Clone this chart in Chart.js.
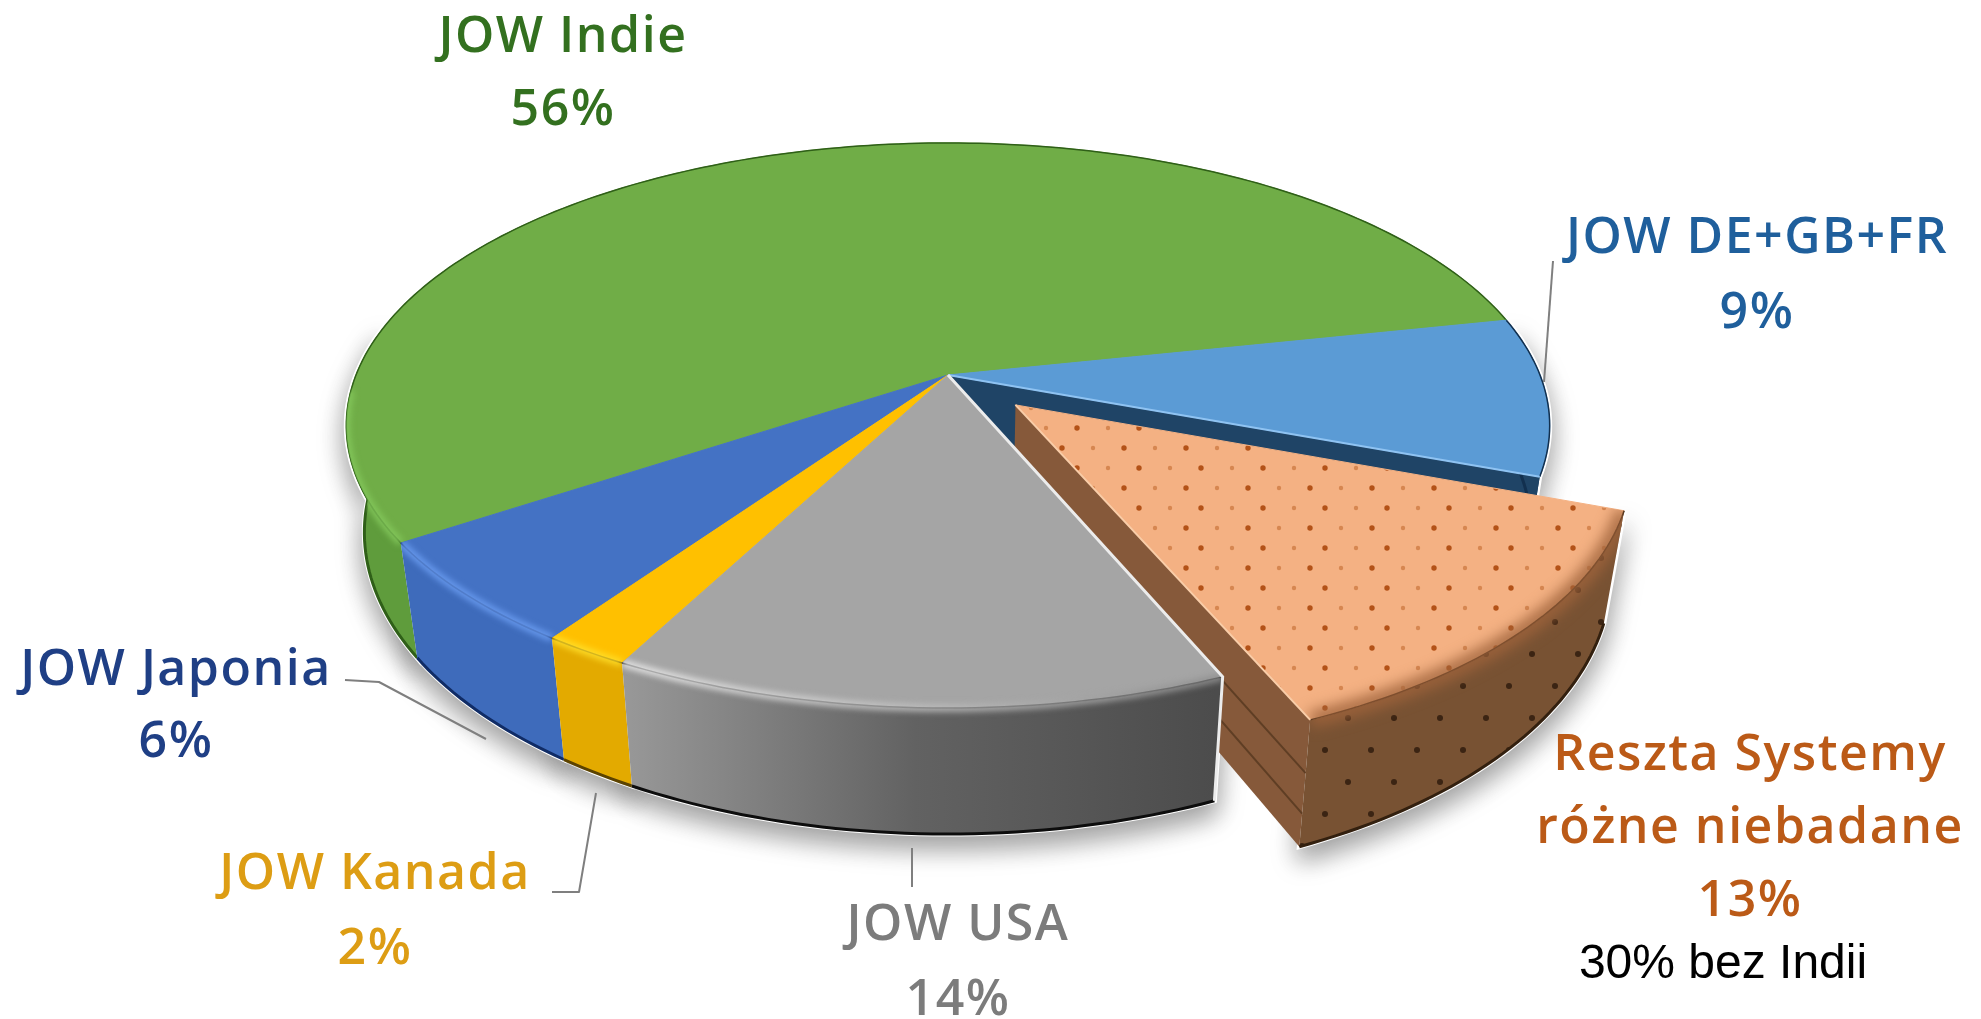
<!DOCTYPE html>
<html lang="pl">
  <head>
    <meta charset="UTF-8" />
    <title>JOW</title>
    <script src="https://cdn.jsdelivr.net/npm/chart.js"></script>
    <style>
      html, body { margin: 0; background: #fff; }
      #box { width: 1981px; height: 1019px; }
    </style>
  </head>
  <body>
    <div id="box"><canvas id="pie"></canvas></div>

    <script>
      // dane
      const categories = ["JOW DE+GB+FR", "Reszta Systemy różne niebadane", "JOW USA", "JOW Kanada", "JOW Japonia", "JOW Indie"];
      const values = [9, 13, 14, 2, 6, 56];
      const labelLines = [["JOW DE+GB+FR"], ["Reszta Systemy", "różne niebadane"], ["JOW USA"], ["JOW Kanada"], ["JOW Japonia"], ["JOW Indie"]];
      const note = "30% bez Indii";

      // wygląd
      const sliceOffsets = [0, 241, 0, 0, 0, 0];
      const topColors = ["#5b9bd5", "#f4b183", "#a5a5a5", "#ffc000", "#4472c4", "#70ad47"];
      const wallColors = ["#1f4466", "#785233", "#6e6e6e", "#e3aa00", "#3e6bbb", "#5f9c3c"];
      const ridgeColors = ["#8fc3f2", "rgba(160,100,60,.9)", "#e4e4e4", "#ffdf2a", "#6a9cf0", "#84c85c"];
      const rimColors = ["#12304f", "#33200f", "#0d0d0d", "#5c4300", "#102c66", "#2f5f18"];
      const textColors = ["#1f5f9c", "#bb5a17", "#7c7c7c", "#dd9d14", "#1f3f85", "#33701f"];
      const drawOrder = [5, 0, 1, 4, 3, 2];
      const labelY = [[239, 314], [756, 829, 902], [926, 1001], [875, 950], [671, 743], [38, 111]];
      const labelX = [1757, 1750, 958, 375, 176, 563];
      const leaders = [
        [[1553, 261], [1544, 382]],
        [],
        [[912, 848], [912, 887]],
        [[552, 892], [579, 892], [596, 793]],
        [[345, 680], [379, 682], [486, 739]],
        []
      ];

      // rzut perspektywiczny tarczy
      const view = { cx: 948, cy: 375, A: 592, B: 273.5, p: 0.1787, H: 103.5, shrink: 0.03 };

      function project(u, v, h) {
        const w = 1 / (1 - view.p * v);
        return [view.cx + view.A * u * w * (1 - view.shrink * h), view.cy + view.B * v * w + view.H * h * w];
      }

      function rim(a0, a1, h, su, sv) {
        const n = Math.max(2, Math.ceil((a1 - a0) / 0.02));
        const pts = [];
        for (let i = 0; i <= n; i++) {
          const a = a0 + (a1 - a0) * i / n;
          pts.push(project(Math.cos(a) + su, Math.sin(a) + sv, h));
        }
        return pts;
      }

      function trace(ctx, pts) {
        ctx.beginPath();
        addPath(ctx, pts);
      }

      function addPath(ctx, pts) {
        pts.forEach((q, i) => i ? ctx.lineTo(q[0], q[1]) : ctx.moveTo(q[0], q[1]));
      }

      function dotTile(w, h, dots) {
        const c = document.createElement("canvas");
        c.width = w; c.height = h;
        const g = c.getContext("2d");
        dots.forEach(d => {
          g.fillStyle = d[3];
          g.beginPath();
          g.arc(d[0], d[1], d[2], 0, Math.PI * 2);
          g.fill();
        });
        return c;
      }

      // część łuku widoczna z przodu
      function frontRange(a0, a1, limit) {
        const n = Math.ceil((a1 - a0) / 0.01);
        let s = null, e = null;
        for (let i = 0; i <= n; i++) {
          const a = a0 + (a1 - a0) * i / n;
          if (Math.sin(a) > limit) {
            if (s === null) s = a;
            e = a;
          }
        }
        return s === null ? null : [s, e];
      }

      function wallPoly(r, su, sv) {
        const top = rim(r[0], r[1], 0, su, sv);
        const bot = rim(r[0], r[1], 1, su, sv).reverse();
        return top.concat(bot);
      }

      const pie3d = {
        id: "pie3d",
        beforeDatasetsDraw(chart) {
          const ctx = chart.ctx;
          const arcs = chart.getDatasetMeta(0).data;
          const n = arcs.length;

          const parts = arcs.map((arc, i) => {
            const shift = (arc.options.offset || 0) / 4 / arc.outerRadius;
            const mid = (arc.startAngle + arc.endAngle) / 2;
            return {
              i,
              a0: arc.startAngle,
              a1: arc.endAngle,
              su: Math.cos(mid) * shift,
              sv: Math.sin(mid) * shift,
              exploded: shift > 0
            };
          });

          const strong = "rgba(172,72,12,.9)", weak = "rgba(190,100,40,.55)";
          const topDots = ctx.createPattern(dotTile(62, 40, [[8, 8, 2.7, strong], [39, 8, 2.2, weak], [23, 28, 2.7, strong], [54, 28, 2.2, weak]]), "repeat");
          const wallDots = ctx.createPattern(dotTile(92, 64, [[14, 14, 3, "#3b2413"], [60, 14, 3, "#3b2413"], [37, 46, 3, "#3b2413"], [83, 46, 3, "#3b2413"]]), "repeat");

          // cień pod wykresem
          ctx.save();
          parts.forEach(s => {
            const r = frontRange(s.a0, s.a1, -0.18);
            if (!r) return;
            trace(ctx, wallPoly(r, s.su, s.sv));
            ctx.closePath();
            ctx.shadowColor = "rgba(0,0,0,.38)";
            ctx.shadowBlur = 26;
            ctx.shadowOffsetY = 12;
            ctx.fillStyle = "#fff";
            ctx.strokeStyle = "#fff";
            ctx.lineWidth = 5;
            ctx.fill();
            ctx.stroke();
          });
          ctx.restore();

          drawOrder.forEach(idx => {
            const s = parts[idx];
            const next = parts[(idx + 1) % n];
            const prev = parts[(idx + n - 1) % n];
            const apex = project(s.su, s.sv, 0);
            const apexLow = project(s.su, s.sv, 1);
            const end = rim(s.a1, s.a1, 0, s.su, s.sv)[0];
            const endLow = rim(s.a1, s.a1, 1, s.su, s.sv)[0];

            // ściana przy wysuniętym kawałku
            if (s.exploded || next.exploded) {
              ctx.fillStyle = s.exploded ? "#86593a" : wallColors[idx];
              trace(ctx, [apex, end, endLow, apexLow]);
              ctx.closePath();
              ctx.fill();
              if (s.exploded) {
                ctx.strokeStyle = "#5f3e24";
                ctx.lineWidth = 2;
                [0.42, 0.74].forEach(t => {
                  trace(ctx, [project(s.su, s.sv, t), rim(s.a1, s.a1, t, s.su, s.sv)[0]]);
                  ctx.stroke();
                });
              }
            }

            // ściana boczna
            const r = frontRange(s.a0, s.a1, -0.18);
            const wall = r ? wallPoly(r, s.su, s.sv) : [];
            if (r) {
              let fill = wallColors[idx];
              if (idx === 2) {
                const g = ctx.createLinearGradient(615, 0, 1215, 0);
                g.addColorStop(0, "#9a9a9a");
                g.addColorStop(0.5, "#626262");
                g.addColorStop(1, "#4c4c4c");
                fill = g;
              }
              trace(ctx, wall);
              ctx.closePath();
              ctx.fillStyle = fill;
              ctx.fill();
              if (s.exploded) {
                ctx.fillStyle = wallDots;
                ctx.fill();
              }
              trace(ctx, rim(r[0], r[1], 1, s.su, s.sv));
              ctx.strokeStyle = rimColors[idx];
              ctx.lineWidth = 3;
              ctx.stroke();
            }

            // wierzch kawałka
            const topPath = [apex].concat(rim(s.a0, s.a1, 0, s.su, s.sv));
            trace(ctx, topPath);
            ctx.closePath();
            ctx.fillStyle = topColors[idx];
            ctx.fill();
            if (s.exploded) {
              ctx.fillStyle = topDots;
              ctx.fill();
            }
            ctx.strokeStyle = topColors[idx];
            ctx.lineWidth = 1;
            ctx.stroke();

            // brzeg od góry
            trace(ctx, rim(s.a0, s.a1, 0, s.su, s.sv));
            ctx.strokeStyle = rimColors[idx];
            ctx.lineWidth = 1.5;
            ctx.stroke();

            // fazowanie, tylko wewnątrz kawałka
            const b = frontRange(s.a0, s.a1, 0.05);
            if (b && idx !== 0) {
              ctx.save();
              ctx.beginPath();
              addPath(ctx, topPath);
              ctx.closePath();
              addPath(ctx, wall);
              ctx.closePath();
              ctx.clip();
              ctx.filter = s.exploded ? "blur(7px)" : "blur(3px)";
              let ridge = ridgeColors[idx];
              if (idx === 2) {
                const g = ctx.createLinearGradient(615, 0, 1215, 0);
                g.addColorStop(0, "#ececec");
                g.addColorStop(0.55, "#b9b9b9");
                g.addColorStop(1, "#8f8f8f");
                ridge = g;
              }
              trace(ctx, rim(b[0], b[1], 0, s.su, s.sv));
              ctx.strokeStyle = ridge;
              ctx.lineWidth = s.exploded ? 16 : 7;
              ctx.stroke();
              ctx.restore();
            }

            // jasna krawędź
            if (next.exploded) {
              trace(ctx, [apex, end]);
              ctx.strokeStyle = ridgeColors[idx];
              ctx.lineWidth = 2;
              ctx.stroke();
            }
            if (s.exploded) {
              trace(ctx, [apex, end]);
              ctx.strokeStyle = "#f9cda8";
              ctx.lineWidth = 2;
              ctx.stroke();
            }
            if (prev.exploded) {
              const start = rim(s.a0, s.a0, 0, s.su, s.sv)[0];
              const startLow = rim(s.a0, s.a0, 1, s.su, s.sv)[0];
              trace(ctx, [apex, start, startLow]);
              ctx.strokeStyle = "#ececec";
              ctx.lineWidth = 3;
              ctx.stroke();
            }
          });

          return false;
        },
        afterDraw(chart) {
          const ctx = chart.ctx;
          ctx.save();
          ctx.lineJoin = "round";
          leaders.forEach(line => {
            if (!line.length) return;
            trace(ctx, line);
            ctx.strokeStyle = "#7f7f7f";
            ctx.lineWidth = 2;
            ctx.stroke();
          });

          ctx.textAlign = "center";
          ctx.textBaseline = "middle";
          ctx.font = '600 50px "Open Sans"';
          ctx.letterSpacing = "1.5px";
          chart.data.labels.forEach((_, i) => {
            const lines = labelLines[i].concat(values[i] + "%");
            ctx.fillStyle = textColors[i];
            lines.forEach((t, k) => ctx.fillText(t, labelX[i], labelY[i][k]));
          });

          ctx.letterSpacing = "0px";
          ctx.font = '48px "Liberation Sans"';
          ctx.fillStyle = "#000";
          ctx.fillText(note, 1723, 965);
          ctx.restore();
        }
      };

      new Chart(document.getElementById("pie"), {
        type: "pie",
        data: {
          labels: categories,
          datasets: [{
            data: values,
            backgroundColor: topColors,
            offset: sliceOffsets,
            borderWidth: 0
          }]
        },
        options: {
          responsive: true,
          maintainAspectRatio: false,
          animation: false,
          rotation: 78,
          plugins: { legend: { display: false }, tooltip: { enabled: false } }
        },
        plugins: [pie3d]
      });
    </script>
  </body>
</html>
